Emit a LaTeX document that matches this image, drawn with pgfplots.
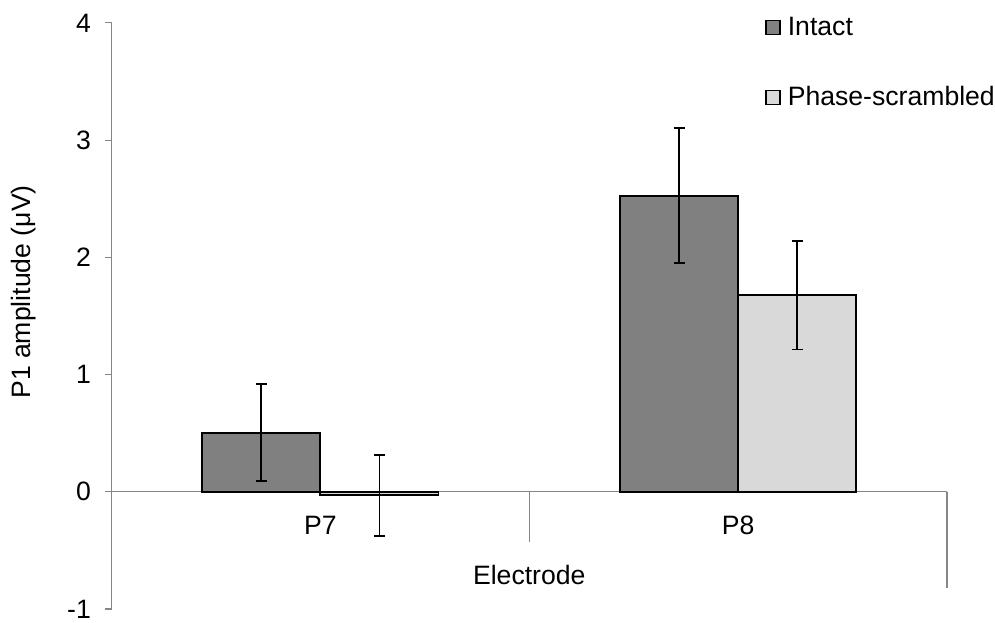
\documentclass[border=0pt]{standalone}
\usepackage{fontspec}
\setmainfont{Liberation Sans}
\usepackage{pgfplots}
\pgfplotsset{compat=1.18}
\definecolor{intactc}{HTML}{808080}
\definecolor{phasec}{HTML}{D9D9D9}
\definecolor{axgray}{HTML}{868686}
\begin{document}
\begin{tikzpicture}
\useasboundingbox (0,0) rectangle (497.5pt,311pt);
\begin{axis}[
  at={(55.75pt,6.55pt)}, anchor=south west,
  scale only axis, width=417.75pt, height=293pt,
  xmin=-0.5, xmax=1.5, ymin=-1, ymax=4,
  axis y line*=left, axis x line=none,
  y axis line style={draw=axgray, line width=0.6pt, -},
  ytick={-1,0,1,2,3,4},
  ytick style={draw=axgray, line width=0.6pt},
  tick align=outside, major tick length=3.5pt,
  yticklabel shift=3.3pt,
  /pgf/number format/assume math mode=true,
  font=\fontsize{13.3}{16}\selectfont,
  ylabel={P1 amplitude (μV)},
  ylabel style={at={(rel axis cs:-0.1055,0.5408)}, anchor=center},
  clip=false,
  legend style={at={(rel axis cs:0.7822,1.0101)}, anchor=north west, draw=none, fill=none,
    inner sep=0pt, outer sep=0pt, row sep=22.5pt, column sep=3.5pt,
    nodes={inner sep=0pt, text height=9.5pt, text depth=3pt}},
  legend cell align=left,
  legend image code/.code={\draw[#1] (0pt,-2.5pt) rectangle (7pt,4.5pt);},
]
\draw[axgray, line width=0.6pt] (axis cs:-0.5,0) -- (axis cs:1.5,0);
\draw[axgray, line width=0.6pt] (axis cs:0.5,0) -- (axis cs:0.5,-0.43);
\draw[axgray, line width=0.6pt] (axis cs:1.5,0) -- (axis cs:1.5,-0.82);

\addplot[ybar, bar width=0.2825, bar shift=0pt, fill=intactc, draw=black, line width=0.9pt,
  error bars/.cd, y dir=both, y explicit,
  error bar style={black, line width=0.9pt},
  error mark options={rotate=90, mark size=2.75pt, black, line width=0.9pt}]
  coordinates {(-0.1413,0.503) +- (0,0.413) (0.8587,2.526) +- (0,0.577)};
\addlegendentry{Intact}
\addplot[ybar, bar width=0.2825, bar shift=0pt, fill=phasec, draw=black, line width=0.9pt,
  error bars/.cd, y dir=both, y explicit,
  error bar style={black, line width=0.9pt},
  error mark options={rotate=90, mark size=2.75pt, black, line width=0.9pt}]
  coordinates {(0.1413,-0.03) +- (0,0.345) (1.1413,1.676) +- (0,0.463)};
\addlegendentry{Phase-scrambled}

\node[anchor=center] at (axis cs:0,-0.285) {P7};
\node[anchor=center] at (axis cs:1,-0.285) {P8};
\node[anchor=center] at (axis cs:0.5,-0.71) {Electrode};
\end{axis}
\end{tikzpicture}
\end{document}
